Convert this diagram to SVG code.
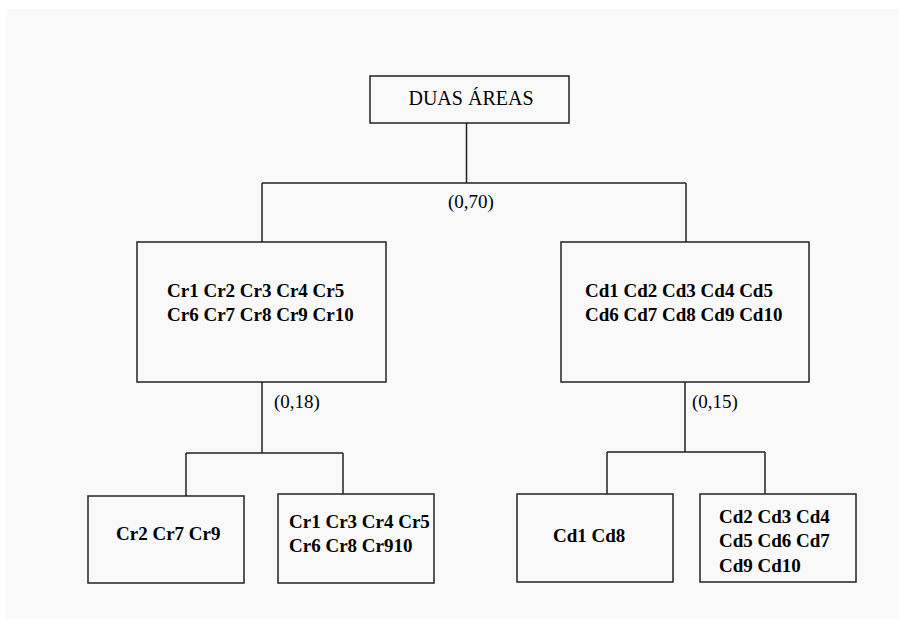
<svg xmlns="http://www.w3.org/2000/svg" width="899" height="619" viewBox="0 0 899 619">
<style>
.box{fill:none;stroke:#222;stroke-width:1.5}
.ln{fill:none;stroke:#222;stroke-width:1.5}
.t{font-family:"Liberation Serif","Times New Roman",serif;font-size:19px;fill:#000}
.b{font-weight:bold}
.root{font-size:20px}
.lbl{font-family:"Liberation Serif","Times New Roman",serif;font-size:19px;fill:#000}
</style>
<rect x="0" y="0" width="899" height="619" fill="#ffffff"/>
<rect x="6" y="9" width="893" height="610" fill="#f9f9f9"/>
<g id="connectors">
<path class="ln" d="M466.5,123 V183 M262,183 H686 M262,183 V242 M686,183 V242"/>
<path class="ln" d="M262,382 V453 M186,453 H343 M186,453 V496 M343,453 V494"/>
<path class="ln" d="M685,382 V452 M607,452 H765 M607,452 V494 M765,452 V494"/>
<text class="lbl" x="471" y="208" text-anchor="middle">(0,70)</text>
<text class="lbl" x="274" y="408">(0,18)</text>
<text class="lbl" x="692" y="408">(0,15)</text>
</g>
<g id="root">
<rect class="box" x="370" y="76" width="199" height="47"/>
<text class="t root" x="471" y="105" text-anchor="middle">DUAS ÁREAS</text>
</g>
<g id="cr">
<rect class="box" x="137" y="242" width="249" height="140"/>
<text class="t b" x="167" y="297">Cr1 Cr2 Cr3 Cr4 Cr5</text>
<text class="t b" x="167" y="321">Cr6 Cr7 Cr8 Cr9 Cr10</text>
</g>
<g id="cd">
<rect class="box" x="561" y="242" width="248" height="140"/>
<text class="t b" x="585" y="297">Cd1 Cd2 Cd3 Cd4 Cd5</text>
<text class="t b" x="585" y="321">Cd6 Cd7 Cd8 Cd9 Cd10</text>
</g>
<g id="cr-a">
<rect class="box" x="88" y="496" width="156" height="87"/>
<text class="t b" x="116" y="540">Cr2 Cr7 Cr9</text>
</g>
<g id="cr-b">
<rect class="box" x="278" y="494" width="156" height="89"/>
<text class="t b" x="289" y="528">Cr1 Cr3 Cr4 Cr5</text>
<text class="t b" x="289" y="552">Cr6 Cr8 Cr910</text>
</g>
<g id="cd-a">
<rect class="box" x="517" y="494" width="156" height="88"/>
<text class="t b" x="553" y="542">Cd1 Cd8</text>
</g>
<g id="cd-b">
<rect class="box" x="700" y="494" width="156" height="88"/>
<text class="t b" x="719" y="523">Cd2 Cd3 Cd4</text>
<text class="t b" x="719" y="547">Cd5 Cd6 Cd7</text>
<text class="t b" x="719" y="572">Cd9 Cd10</text>
</g>
</svg>
